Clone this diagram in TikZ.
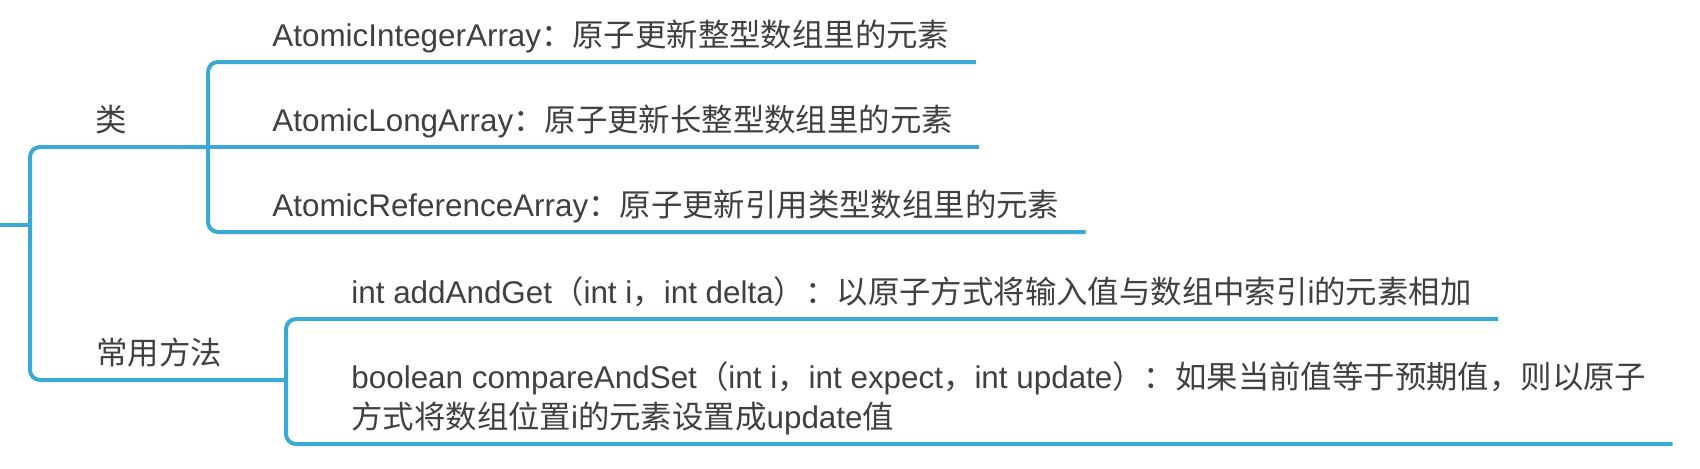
\documentclass[tikz,border=0pt]{standalone}
\usepackage{fontspec}
\setmainfont{Liberation Sans}
\newfontfamily\cjkfont{Noto Sans CJK SC}
\newcommand{\zh}[1]{{\cjkfont #1}}
\usepackage{xcolor}
\definecolor{mapblue}{RGB}{59, 169, 209}
\definecolor{maptext}{RGB}{64, 64, 64}
\usepackage{tikz}

\tikzset{
  branch/.style={draw=mapblue, line width=2pt, rounded corners=5pt},
  topic/.style={anchor=south west, inner xsep=13pt, inner ysep=3.5pt,
    text height=11pt, text depth=4pt, text=maptext,
    font=\fontsize{15.7pt}{20pt}\selectfont, align=left}
}

\begin{document}
\begin{tikzpicture}[x=0.5pt, y=-0.5pt]
      \useasboundingbox (0,0) rectangle (1700,468);
      % Junctions
      \coordinate (root) at (0,225);
      \coordinate (hub) at (30,225);
      \coordinate (clsJ) at (208,147);
      \coordinate (mtdJ) at (286,380);
      % Main topics
      \node[topic] (cls) at (69,147) {\zh{类}};
      \node[topic] (mtd) at (70,380) {\zh{常用方法}};
      % Classes
      \node[topic] (aint) at (246,62) {AtomicIntegerArray\zh{：原子更新整型数组里的元素}};
      \node[topic] (along) at (246,147) {AtomicLongArray\zh{：原子更新长整型数组里的元素}};
      \node[topic] (aref) at (246,232) {AtomicReferenceArray\zh{：原子更新引用类型数组里的元素}};
      % Methods
      \node[topic] (addget) at (325,319)
        {int addAndGet\zh{（}int i\zh{，}int delta\zh{）：以原子方式将输入值与数组中索引}i\zh{的元素相加}};
      \node[topic] (cas) at (325,444)
        {boolean compareAndSet\zh{（}int i\zh{，}int expect\zh{，}int update\zh{）：如果当前值等于预期值，则以原子}\\
         \zh{方式将数组位置}i\zh{的元素设置成}update\zh{值}};
      % Connectors
      \draw[branch] (root) -- (hub);
      \draw[branch] (hub) |- (clsJ);
      \draw[branch] (hub) |- (mtdJ);
      \draw[branch] (clsJ) |- (aint.south east);
      \draw[branch] (clsJ) -- (along.south east);
      \draw[branch] (clsJ) |- (aref.south east);
      \draw[branch] (mtdJ) |- (addget.south east);
      \draw[branch] (mtdJ) |- (cas.south east);
    \end{tikzpicture}
\end{document}
